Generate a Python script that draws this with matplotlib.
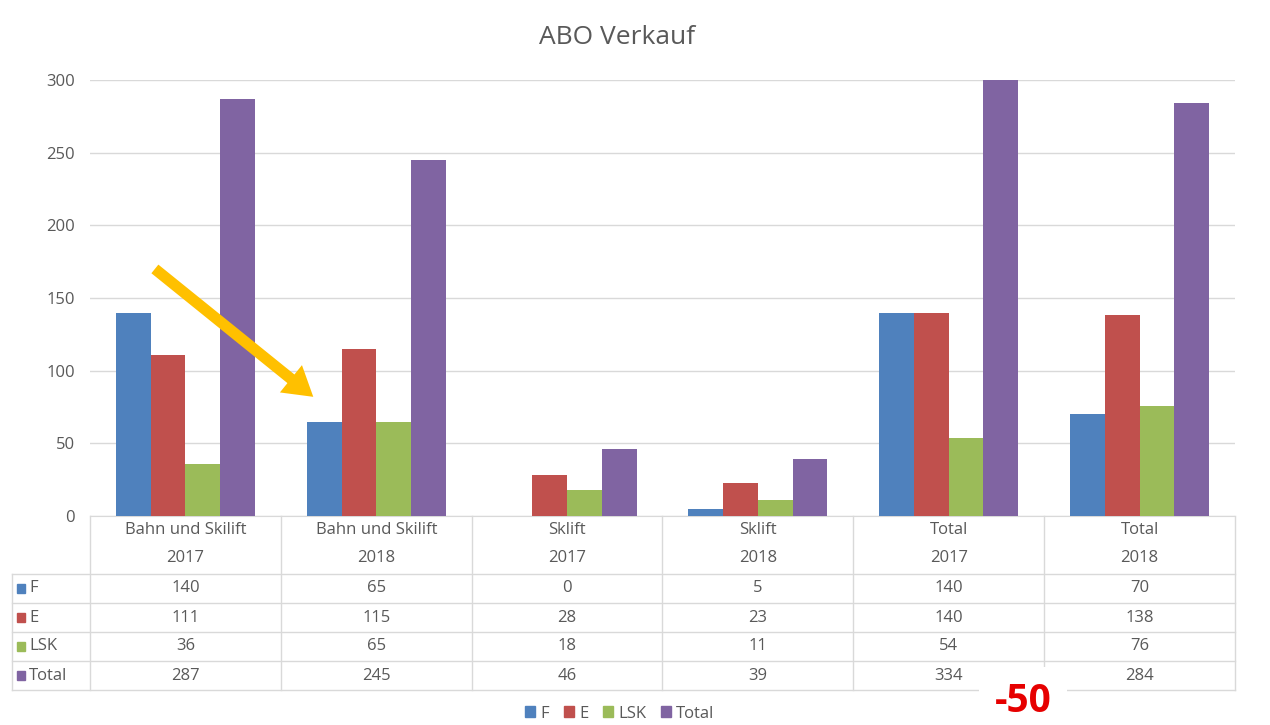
import numpy as np
import matplotlib.pyplot as plt
from matplotlib.patches import Patch, Rectangle

# data
cat_names = ["Bahn und Skilift", "Bahn und Skilift", "Sklift", "Sklift", "Total", "Total"]
years = ["2017", "2018", "2017", "2018", "2017", "2018"]
series_names = ["F", "E", "LSK", "Total"]
F = [140, 65, 0, 5, 140, 70]
E = [111, 115, 28, 23, 140, 138]
LSK = [36, 65, 18, 11, 54, 76]
Total = [287, 245, 46, 39, 334, 284]
yticks = [0, 50, 100, 150, 200, 250, 300]

colors = ["#4F81BD", "#C0504D", "#9BBB59", "#8064A2"]
txt = "#595959"
grid = "#D9D9D9"
plt.rcParams['font.family'] = ['Open Sans', 'DejaVu Sans']
fs = 12

W, H = 1270, 725
fig = plt.figure(figsize=(W / 100, H / 100), dpi=100)

def px_axes(x0, y0, x1, y1):
    # pixel box (top-left origin) -> figure fraction
    return [x0 / W, 1 - y1 / H, (x1 - x0) / W, (y1 - y0) / H]

ax = fig.add_axes(px_axes(90, 80, 1235, 516))
x = np.arange(len(cat_names))
data = [F, E, LSK, Total]
bw = 0.182
for k, vals in enumerate(data):
    ax.bar(x + (k - 1.5) * bw, vals, bw, color=colors[k], zorder=3)

ax.set_xlim(-0.5, len(cat_names) - 0.5)
ax.set_ylim(0, 300)
ax.set_yticks(yticks)
ax.set_yticklabels([str(t) for t in yticks], color=txt, fontsize=fs)
ax.tick_params(axis='y', length=0, pad=11)
ax.set_xticks([])
ax.yaxis.grid(True, color=grid, lw=1)
for s in ["left", "right", "top"]:
    ax.spines[s].set_visible(False)
ax.spines["bottom"].set_color(grid)

fig.text(617 / W, 1 - 38 / H, "ABO Verkauf", ha='center', va='center',
         fontsize=19, color=txt)

# yellow arrow
ax.annotate("", xy=(0.67, 82), xytext=(-0.16, 170),
            arrowprops=dict(arrowstyle="-|>,head_length=0.9,head_width=0.55",
                            color="#FFC000", lw=8, shrinkA=0, shrinkB=0,
                            capstyle='butt', joinstyle='miter'),
            zorder=5, annotation_clip=False)

# data table
tab = fig.add_axes(px_axes(90, 516, 1235, 690))
tab.set_xlim(-0.5, len(cat_names) - 0.5)
tab.set_ylim(6, 0)
tab.axis('off')
left = -0.5 - 78 / 190.83
lkw = dict(color=grid, lw=1, clip_on=False)
for b in np.arange(len(cat_names) + 1) - 0.5:
    tab.plot([b, b], [0, 6], **lkw)
tab.plot([left, left], [2, 6], **lkw)
for r in [2, 3, 4, 5, 6]:
    tab.plot([left, 5.5], [r, r], **lkw)
for i in x:
    tab.text(i, 0.5, cat_names[i], ha='center', va='center', fontsize=fs, color=txt)
    tab.text(i, 1.45, years[i], ha='center', va='center', fontsize=fs, color=txt)
for k, vals in enumerate(data):
    yy = 2.5 + k
    for i in x:
        tab.text(i, yy, str(vals[i]), ha='center', va='center', fontsize=fs, color=txt)
    tab.add_patch(Rectangle((left + 0.028, yy - 0.14), 0.04, 0.28,
                            color=colors[k], clip_on=False))
    tab.text(left + 0.09, yy, series_names[k], ha='left', va='center',
             fontsize=fs, color=txt)

# red note
fig.text(1023 / W, 1 - 702 / H, "-50", ha='center', va='center', fontsize=28,
         fontweight='bold', color="#E60000",
         bbox=dict(facecolor='white', edgecolor='none', pad=11), zorder=10)

handles = [Patch(color=c, label=n) for c, n in zip(colors, series_names)]
fig.legend(handles=handles, loc='lower center', ncol=4, frameon=False,
           fontsize=fs, labelcolor=txt, handlelength=0.6, handleheight=0.6,
           handletextpad=0.3, columnspacing=0.9,
           bbox_to_anchor=(620 / W, -0.016))

fig.savefig("out.png", dpi=100)
